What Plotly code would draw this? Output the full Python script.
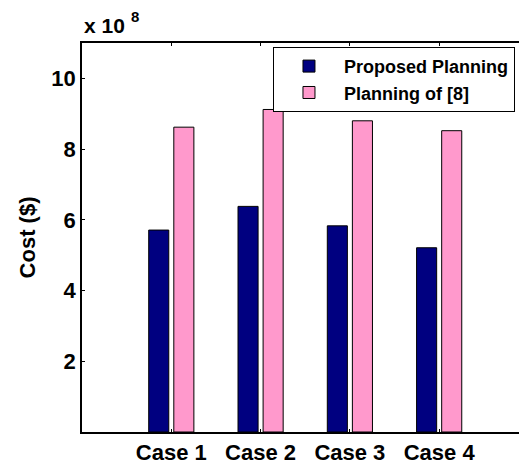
import plotly.graph_objects as go

categories = ["Case 1", "Case 2", "Case 3", "Case 4"]
proposed = [5.71, 6.38, 5.83, 5.21]
planning8 = [8.62, 9.12, 8.80, 8.52]
series_names = ["Proposed Planning", "Planning of [8]"]
y_ticks = [2, 4, 6, 8, 10]

FONT = "Arial, 'Liberation Sans', sans-serif"

fig = go.Figure()
fig.add_trace(go.Bar(x=categories, y=proposed, name="<b>" + series_names[0] + "</b>",
                     marker=dict(color="#000080", line=dict(color="#000000", width=1))))
fig.add_trace(go.Bar(x=categories, y=planning8, name="<b>" + series_names[1] + "</b>",
                     marker=dict(color="#FF99CC", line=dict(color="#000000", width=1))))

fig.update_layout(
    width=519, height=465,
    margin=dict(l=82, r=0, t=43, b=28),
    paper_bgcolor="white", plot_bgcolor="white",
    barmode="group", bargap=0.438, bargroupgap=0.2,
    font=dict(family=FONT, color="black"),
    showlegend=True,
    legend=dict(x=0.437, y=0.99, xanchor="left", yanchor="top",
                bgcolor="white", bordercolor="black", borderwidth=1,
                font=dict(size=18, family=FONT),
                itemwidth=60, tracegroupgap=0),
    xaxis=dict(range=[-1, 3.894], showline=True, linecolor="black", linewidth=1.5,
               mirror="ticks", ticks="inside", ticklen=3, tickcolor="black",
               showgrid=False, zeroline=False,
               tickvals=categories, ticktext=["<b>" + c + "</b>" for c in categories],
               tickfont=dict(size=22, family=FONT)),
    yaxis=dict(range=[0, 11], tickvals=y_ticks, ticktext=["<b>" + str(v) + "</b>" for v in y_ticks],
               showline=True, linecolor="black", linewidth=1.5, mirror=False,
               ticks="inside", ticklen=3, tickcolor="black",
               showgrid=False, zeroline=False,
               tickfont=dict(size=22, family=FONT),
               title=dict(text="<b>Cost ($)</b>", font=dict(size=22, family=FONT),
                          standoff=10)),
)

fig.add_annotation(text="<b>x 10</b>", xref="paper", yref="paper",
                   x=0.0, y=1.0, xanchor="left", yanchor="bottom", yshift=4, showarrow=False,
                   font=dict(size=21, family=FONT, color="black"))
fig.add_annotation(text="<b>8</b>", xref="paper", yref="paper",
                   x=0.0, y=1.0, xanchor="left", yanchor="bottom", xshift=47, yshift=16,
                   showarrow=False, font=dict(size=15, family=FONT, color="black"))

fig.write_html("out.html")
